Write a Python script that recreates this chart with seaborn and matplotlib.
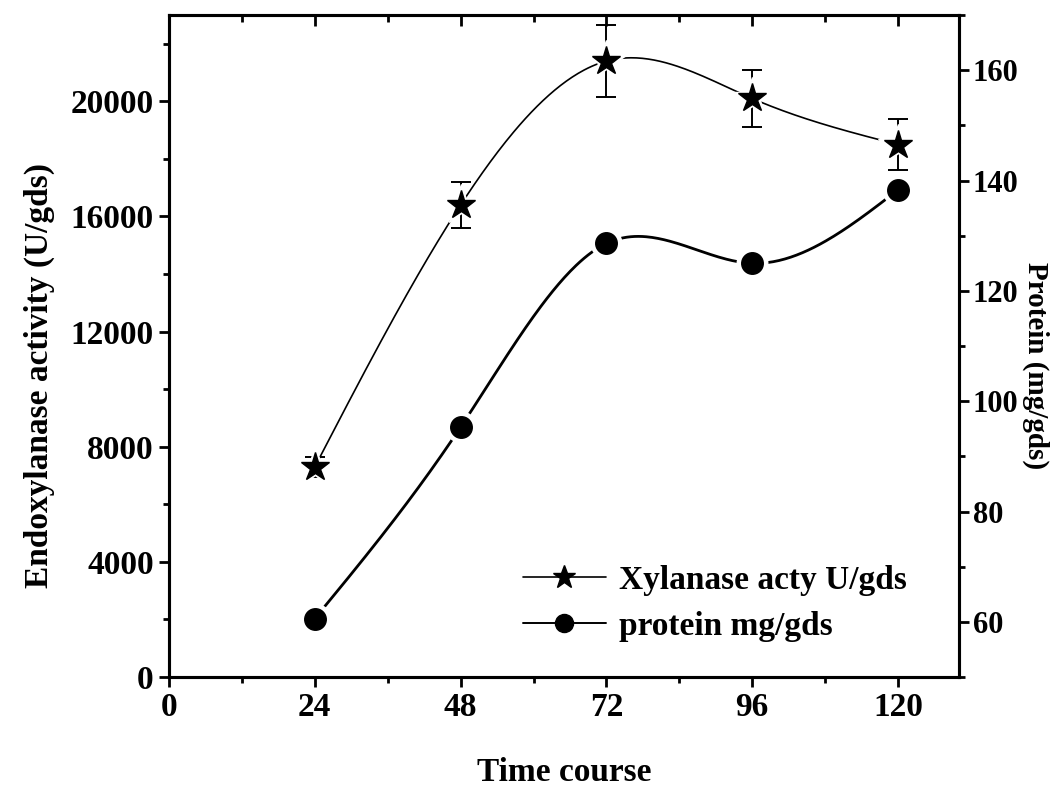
import numpy as np
import pandas as pd
import matplotlib
matplotlib.use("Agg")
import matplotlib.pyplot as plt
from matplotlib.lines import Line2D
from matplotlib.ticker import MultipleLocator
import seaborn as sns

# Sampling times (h)
time_h = [24, 48, 72, 96, 120]
# Endoxylanase activity (U/gds) and its standard deviation
xylanase = [7300, 16400, 21400, 20100, 18500]
xylanase_sd = [350, 800, 1250, 1000, 900]
# Extracellular protein (mg/gds)
protein = [60.6, 95.3, 128.6, 125.0, 138.3]

x_ticks = [0, 24, 48, 72, 96, 120]
left_ticks = [0, 4000, 8000, 12000, 16000, 20000]
right_ticks = [60, 80, 100, 120, 140, 160]


def natural_spline(x, y, n=300):
    """Natural cubic spline through the points (x, y)."""
    x = np.asarray(x, float)
    y = np.asarray(y, float)
    k = len(x)
    h = np.diff(x)
    A = np.zeros((k, k))
    b = np.zeros(k)
    A[0, 0] = A[-1, -1] = 1.0
    for i in range(1, k - 1):
        A[i, i - 1] = h[i - 1]
        A[i, i] = 2 * (h[i - 1] + h[i])
        A[i, i + 1] = h[i]
        b[i] = 6 * ((y[i + 1] - y[i]) / h[i] - (y[i] - y[i - 1]) / h[i - 1])
    m = np.linalg.solve(A, b)
    xs = np.linspace(x[0], x[-1], n)
    idx = np.clip(np.searchsorted(x, xs) - 1, 0, k - 2)
    x0, x1 = x[idx], x[idx + 1]
    hh = x1 - x0
    t0, t1 = x1 - xs, xs - x0
    ys = (m[idx] * t0 ** 3 + m[idx + 1] * t1 ** 3) / (6 * hh) \
        + (y[idx] / hh - m[idx] * hh / 6) * t0 \
        + (y[idx + 1] / hh - m[idx + 1] * hh / 6) * t1
    return xs, ys


sns.set_theme(style="white")
plt.rcParams["font.family"] = ["Liberation Serif", "DejaVu Serif"]
plt.rcParams["font.weight"] = "bold"
plt.rcParams["axes.labelweight"] = "bold"
for key in ("text.color", "axes.labelcolor", "xtick.color", "ytick.color",
            "axes.edgecolor"):
    plt.rcParams[key] = "black"

fig = plt.figure(figsize=(10.53, 7.90), dpi=100)
ax = fig.add_axes([0.1605, 0.143, 0.750, 0.838])
ax2 = ax.twinx()

# ---- Xylanase activity (left axis) ----
xs, ys = natural_spline(time_h, xylanase)
sns.lineplot(data=pd.DataFrame({"t": xs, "v": ys}), x="t", y="v", ax=ax,
             color="black", linewidth=1.2, zorder=2, legend=False)
ax.errorbar(time_h, xylanase, yerr=xylanase_sd, fmt="none", ecolor="black",
            elinewidth=1.4, capsize=7, capthick=1.4, zorder=3)
ax.plot(time_h, xylanase, linestyle="none", marker="*", ms=30,
        color="white", zorder=4)
ax.plot(time_h, xylanase, linestyle="none", marker="*", ms=21,
        color="black", zorder=5)

# ---- Protein (right axis) ----
xs2, ys2 = natural_spline(time_h, protein)
sns.lineplot(data=pd.DataFrame({"t": xs2, "v": ys2}), x="t", y="v", ax=ax2,
             color="black", linewidth=2.0, zorder=2, legend=False)
ax2.plot(time_h, protein, linestyle="none", marker="o", ms=22,
         color="white", zorder=4)
ax2.plot(time_h, protein, linestyle="none", marker="o", ms=15.5,
         color="black", zorder=5)

# ---- Axes limits and ticks ----
ax.set_xlim(0, 130)
ax.set_ylim(0, 23000)
ax2.set_ylim(50, 170)

ax.set_xticks(x_ticks)
ax.set_xticklabels([str(v) for v in x_ticks])
ax.xaxis.set_minor_locator(MultipleLocator(12))
ax.set_yticks(left_ticks)
ax.set_yticklabels([str(v) for v in left_ticks])
ax.yaxis.set_minor_locator(MultipleLocator(2000))
ax2.set_yticks(right_ticks)
ax2.set_yticklabels([str(v) for v in right_ticks])
ax2.yaxis.set_minor_locator(MultipleLocator(10))

ax.tick_params(axis="x", which="both", direction="out", bottom=True, top=False,
               labelsize=24, width=2, pad=4, colors="black")
ax.tick_params(axis="x", which="major", length=7)
ax.tick_params(axis="x", which="minor", length=4)
ax.tick_params(axis="y", which="both", direction="out", left=True, right=False,
               labelsize=24, width=2, pad=4, colors="black")
ax.tick_params(axis="y", which="major", length=7)
ax.tick_params(axis="y", which="minor", length=4)
ax2.tick_params(axis="y", which="both", direction="out", right=True,
                labelsize=22, width=2, pad=3, colors="black")
ax2.tick_params(axis="y", which="major", length=7)
ax2.tick_params(axis="y", which="minor", length=4)

# top spine ticks point inward
secx = ax.secondary_xaxis("top")
secx.set_xticks(x_ticks)
secx.xaxis.set_minor_locator(MultipleLocator(12))
secx.tick_params(axis="x", which="both", direction="in", width=2,
                 labeltop=False, colors="black")
secx.tick_params(axis="x", which="major", length=8)
secx.tick_params(axis="x", which="minor", length=5)
secx.spines["top"].set_visible(False)

for a in (ax, ax2):
    for s in a.spines.values():
        s.set_visible(True)
        s.set_color("black")
        s.set_linewidth(2.2)
for lab in ax.get_xticklabels() + ax.get_yticklabels() + ax2.get_yticklabels():
    lab.set_fontweight("bold")

ax.set_xlabel("Time course", fontsize=24, fontweight="bold", labelpad=24,
              color="black")
ax.set_ylabel("Endoxylanase activity (U/gds)", fontsize=24,
              fontweight="bold", va="center", color="black")
ax.yaxis.set_label_coords(-0.164, 0.456)
ax2.set_ylabel("Protein (mg/gds)", fontsize=21, fontweight="bold",
               rotation=270, va="center", color="black")
ax2.yaxis.set_label_coords(1.097, 0.471)

# ---- Legend ----
handles = [
    Line2D([], [], color="black", linewidth=1.2, marker="*", ms=17),
    Line2D([], [], color="black", linewidth=1.4, marker="o", ms=13),
]
labels = ["Xylanase acty U/gds", "protein mg/gds"]
ax.legend(handles, labels, loc="center left", bbox_to_anchor=(0.41, 0.111),
          frameon=False, handlelength=2.5, handletextpad=0.4,
          labelspacing=0.45, labelcolor="black",
          prop={"weight": "bold", "size": 24})

fig.savefig("out.png", dpi=100)
